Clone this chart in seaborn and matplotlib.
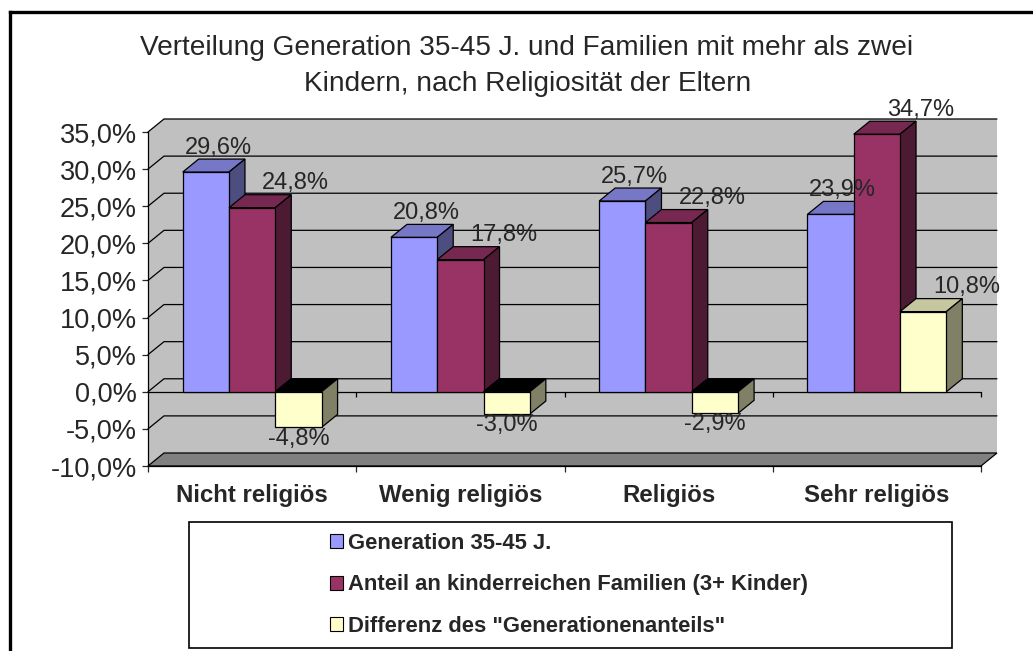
import numpy as np
import pandas as pd
import matplotlib
matplotlib.use("Agg")
import matplotlib.pyplot as plt
import seaborn as sns
from matplotlib.patches import Polygon, Patch, Rectangle
from matplotlib.lines import Line2D
from matplotlib.colors import to_rgb
from matplotlib.ticker import FuncFormatter

# Data
categories = ['Nicht religiös', 'Wenig religiös', 'Religiös', 'Sehr religiös']
series = ['Generation 35-45 J.',
          'Anteil an kinderreichen Familien (3+ Kinder)',
          'Differenz des "Generationenanteils"']
generation = [29.6, 20.8, 25.7, 23.9]
kinderreich = [24.8, 17.8, 22.8, 34.7]
differenz = [-4.8, -3.0, -2.9, 10.8]
colors = ['#9999FF', '#993366', '#FFFFCC']
title_lines = ['Verteilung Generation 35-45 J. und Familien mit mehr als zwei',
               'Kindern, nach Religiosität der Eltern']
yticks = [-10, -5, 0, 5, 10, 15, 20, 25, 30, 35]

df = pd.DataFrame({
    'Kategorie': categories * 3,
    'Reihe': [s for s in series for _ in categories],
    'Wert': generation + kinderreich + differenz,
})
palette = dict(zip(series, colors))

sns.set_style('white')
plt.rcParams['font.family'] = ['Liberation Sans', 'DejaVu Sans']

W, H = 1033, 651
fig = plt.figure(figsize=(W / 100, H / 100), dpi=100)
fig.patch.set_facecolor('white')

# front plane of the 3D plot area, in pixels: x 148..981, y 132..466
ax = fig.add_axes([148 / W, 1 - 466 / H, (981 - 148) / W, (466 - 132) / H])
ax.set_xlim(-0.5, len(categories) - 0.5)
ax.set_ylim(yticks[0], yticks[-1])
ax.patch.set_alpha(0)

# depth offset (3D look)
dx = 16 / ((981 - 148) / len(categories))
dy = 13 / ((466 - 132) / (yticks[-1] - yticks[0]))
x0, x1 = ax.get_xlim()
y0, y1 = ax.get_ylim()

wall = '#C0C0C0'
# side wall and back wall
ax.add_patch(Polygon([(x0, y0), (x0, y1), (x0 + dx, y1 + dy), (x0 + dx, y0 + dy)],
                     closed=True, facecolor=wall, edgecolor='none', zorder=0, clip_on=False))
ax.add_patch(Polygon([(x0 + dx, y0 + dy), (x1 + dx, y0 + dy), (x1 + dx, y1 + dy), (x0 + dx, y1 + dy)],
                     closed=True, facecolor=wall, edgecolor='none', zorder=0, clip_on=False))
# floor
ax.add_patch(Polygon([(x0, y0), (x1, y0), (x1 + dx, y0 + dy), (x0 + dx, y0 + dy)],
                     closed=True, facecolor='#808080', edgecolor='black', lw=0.9, zorder=0.5, clip_on=False))
# gridlines on back and side wall
for v in yticks[1:]:
    ax.plot([x0, x0 + dx, x1 + dx], [v, v + dy, v + dy], color='black', lw=0.9,
            zorder=1, clip_on=False, solid_joinstyle='miter')

# zero line across the front, with small ticks at category borders
ax.plot([x0, x1], [0, 0], color='black', lw=0.9, zorder=1.5, clip_on=False)
borders = np.arange(len(categories)) + 0.5
ax.vlines(borders, -0.65, 0, color='black', lw=0.9, zorder=1.5, clip_on=False)

sns.barplot(data=df, x='Kategorie', y='Wert', hue='Reihe', palette=palette,
            order=categories, hue_order=series, width=0.667, gap=0, saturation=1,
            edgecolor='black', linewidth=0.9, legend=False, ax=ax)

def shade(c, f):
    r, g, b = to_rgb(c)
    return (r * f, g * f, b * f)

bars = [p for p in ax.patches if isinstance(p, Rectangle)]
bars = sorted(bars, key=lambda p: p.get_x())
label_shift = {colors[0]: 0.02, colors[1]: 0.17, colors[2]: 0.17}
for i, p in enumerate(bars):
    bx, bw = p.get_x(), p.get_width()
    lo = min(p.get_y(), p.get_y() + p.get_height())
    hi = max(p.get_y(), p.get_y() + p.get_height())
    base = p.get_facecolor()
    z = 3 + i * 0.1
    p.set_zorder(z + 0.05)
    neg = p.get_height() < 0
    top_col = 'black' if neg else shade(base, 0.78)
    ax.add_patch(Polygon([(bx, hi), (bx + bw, hi), (bx + bw + dx, hi + dy), (bx + dx, hi + dy)],
                         closed=True, facecolor=top_col, edgecolor='black', lw=0.9,
                         zorder=z, clip_on=False))
    ax.add_patch(Polygon([(bx + bw, lo), (bx + bw + dx, lo + dy), (bx + bw + dx, hi + dy), (bx + bw, hi)],
                         closed=True, facecolor=shade(base, 0.5), edgecolor='black', lw=0.9,
                         zorder=z, clip_on=False))
    val = p.get_height()
    txt = f"{val:.1f}%".replace('.', ',')
    key = matplotlib.colors.to_hex(base[:3]).upper()
    if neg:
        ax.text(bx + bw / 2, lo - 1.5, txt, ha='center', va='center', fontsize=17,
                zorder=10, clip_on=False)
    else:
        ax.text(bx + bw / 2 + dx / 2 + label_shift.get(key, 0), hi + 3.3, txt,
                ha='center', va='center', fontsize=17, zorder=10, clip_on=False)

# axes styling
for s in ['top', 'right']:
    ax.spines[s].set_visible(False)
ax.spines['left'].set_color('black')
ax.spines['bottom'].set_color('black')
ax.spines['left'].set_linewidth(0.9)
ax.spines['bottom'].set_linewidth(0.9)
ax.spines['left'].set_zorder(2)
ax.spines['bottom'].set_zorder(2)
ax.set_yticks(yticks)
ax.yaxis.set_major_formatter(FuncFormatter(lambda v, _: f"{v:.1f}%".replace('.', ',')))
ax.tick_params(axis='y', direction='out', length=4, width=0.9, pad=4, labelsize=19.5, left=True)
ax.set_xticks(np.concatenate([[x0], borders]))
ax.set_xticklabels([])
ax.set_xticks(np.arange(len(categories)), minor=True)
ax.set_xticklabels(categories, minor=True, fontsize=17.3, fontweight='bold')
ax.tick_params(axis='x', which='major', direction='out', length=4, width=0.9, bottom=True)
ax.tick_params(axis='x', which='minor', length=0, pad=13)
ax.set_xlabel('')
ax.set_ylabel('')
ax.grid(False)

# title
fig.text(527 / W, 1 - 48 / H, title_lines[0], ha='center', va='center', fontsize=20.2)
fig.text(528 / W, 1 - 84 / H, title_lines[1], ha='center', va='center', fontsize=20.2)

# legend box
fig.add_artist(Rectangle((189 / W, 1 - 648 / H), (952 - 189) / W, (648 - 522) / H,
                         transform=fig.transFigure, fill=False, edgecolor='black', lw=1.2))
handles = [Patch(facecolor=c, edgecolor='black', lw=0.8) for c in colors]
fig.legend(handles, series, loc='upper left', bbox_to_anchor=(330 / W, 1 - 533 / H),
           frameon=False, borderpad=0, borderaxespad=0, handlelength=0.6, handleheight=0.6,
           handletextpad=0.22, labelspacing=0.93,
           prop={'size': 15.8, 'weight': 'bold'})

# outer chart frame (runs off the right and bottom edges)
fig.add_artist(Line2D([10 / W, 10 / W], [-0.05, 1 - 11.5 / H], transform=fig.transFigure,
                      color='black', lw=2.4, solid_capstyle='projecting'))
fig.add_artist(Line2D([10 / W, 1.05], [1 - 11.5 / H, 1 - 11.5 / H], transform=fig.transFigure,
                      color='black', lw=2.4, solid_capstyle='projecting'))

fig.savefig('out.png', dpi=100, facecolor='white')
